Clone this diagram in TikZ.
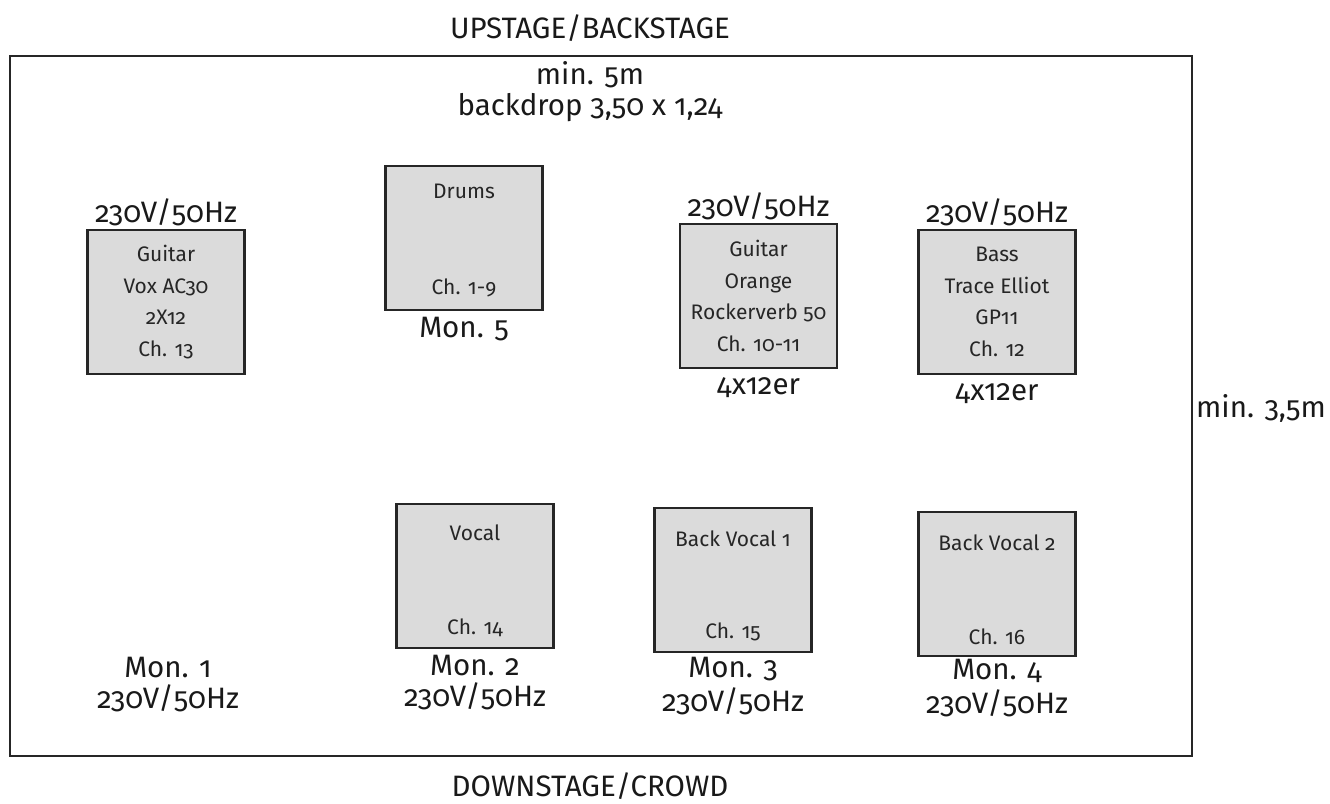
\documentclass[tikz,border=0pt]{standalone}
\usepackage{fontspec}
\setmainfont{Fira Sans}[Numbers=OldStyle]
\usetikzlibrary{positioning}

\begin{document}
\begin{tikzpicture}[x=1pt, y=-1pt,
                  amp/.style={draw=black!85, line width=2.6pt, fill=black!14, minimum width=157pt, minimum height=144pt,
                              inner sep=0pt, align=center, font=\fontsize{21}{31.5}\selectfont, text=black!85},
                  inbox/.style={inner sep=0pt, font=\fontsize{21}{24}\selectfont, text=black!85},
                  lbl/.style={inner sep=0pt, font=\fontsize{29.5}{32}\selectfont, text=black!90},
                  node distance=4pt]

    \useasboundingbox (0,0) rectangle (1330,803); % whole sheet, pixel units

    % stage
    \draw[draw=black!85, line width=2.8pt] (10,56) rectangle (1192,756);
    \node[lbl] (up)   at (590,28)  {UPSTAGE/BACKSTAGE};
    \node[lbl] (down) at (590,786) {DOWNSTAGE/CROWD};
    \node[lbl, anchor=west] (depth) at (1196,408) {min. 3,5m};
    \node[lbl] (width) at (590,75) {min. 5m};
    \node[lbl, below=5pt of width] (drop) {backdrop 3,50 x 1,24};

    % backline
    \node[amp] (vox)    at (166,302)   {Guitar\\Vox AC30\\2X12\\Ch. 13};
    \node[amp] (drums)  at (464,238)   {};
    \node[amp] (orange) at (758.5,296) {Guitar\\Orange\\Rockerverb 50\\Ch. 10-11};
    \node[amp] (bass)   at (997,302)   {Bass\\Trace Elliot\\GP11\\Ch. 12};

    \node[inbox, below=19pt of drums.north] (drumsT) {Drums};
    \node[inbox, above=14pt of drums.south] (drumsC) {Ch. 1-9};

    \node[lbl, above=3pt of vox]    (voxP)    {230V/50Hz};
    \node[lbl, above=3pt of orange] (orangeP) {230V/50Hz};
    \node[lbl, above=3pt of bass]   (bassP)   {230V/50Hz};
    \node[lbl, below=6pt of drums]  (mon5)    {Mon. 5};
    \node[lbl, below=8pt of orange] (orangeC) {4x12er};
    \node[lbl, below=8pt of bass]   (bassC)   {4x12er};

    % vocals
    \node[amp] (vocal) at (475,576) {};
    \node[amp] (back1) at (733,580) {};
    \node[amp] (back2) at (997,584) {};

    \node[inbox, below=22pt of vocal.north] (vocalT) {Vocal};
    \node[inbox, above=12pt of vocal.south] (vocalC) {Ch. 14};
    \node[inbox, below=24pt of back1.north] (back1T) {Back Vocal 1};
    \node[inbox, above=12pt of back1.south] (back1C) {Ch. 15};
    \node[inbox, below=24pt of back2.north] (back2T) {Back Vocal 2};
    \node[inbox, above=12pt of back2.south] (back2C) {Ch. 16};

    % monitors
    \node[lbl] (mon1) at (168,668) {Mon. 1};
    \node[lbl, below=6pt of mon1] (mon1P) {230V/50Hz};
    \node[lbl, below=6pt of vocal] (mon2) {Mon. 2};
    \node[lbl, below=6pt of mon2]  (mon2P) {230V/50Hz};
    \node[lbl, below=4pt of back1] (mon3) {Mon. 3};
    \node[lbl, below=6pt of mon3]  (mon3P) {230V/50Hz};
    \node[lbl, below=2pt of back2] (mon4) {Mon. 4};
    \node[lbl, below=6pt of mon4]  (mon4P) {230V/50Hz};

\end{tikzpicture}
\end{document}
